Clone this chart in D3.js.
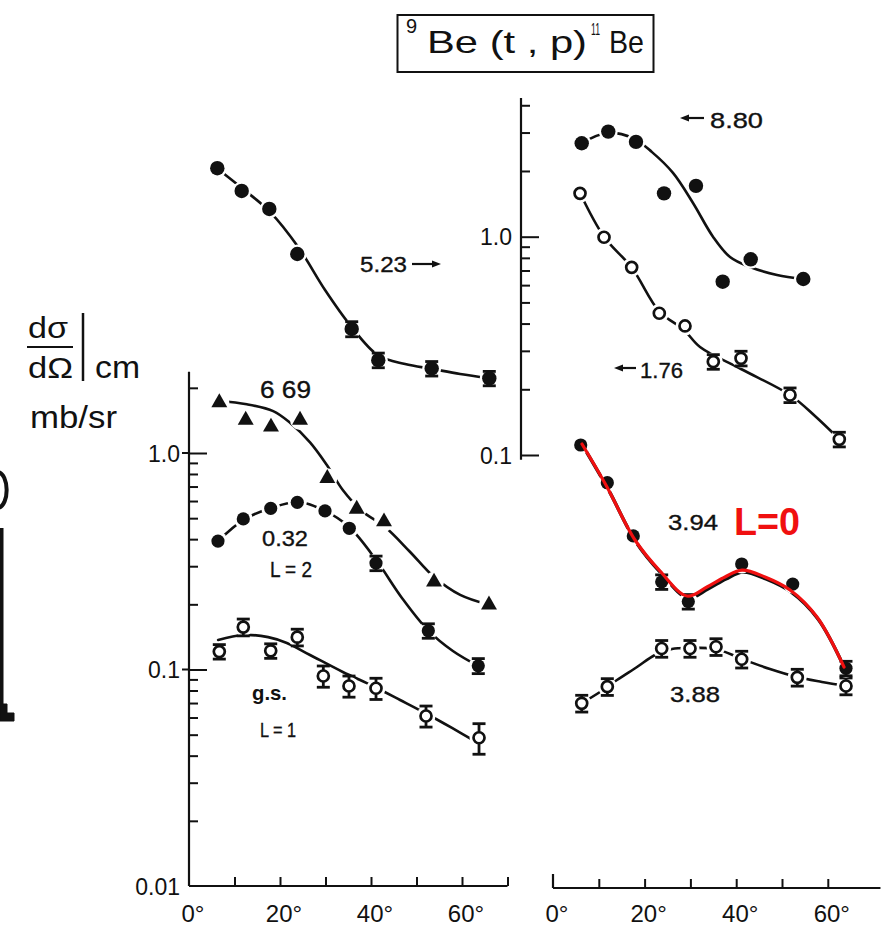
<!DOCTYPE html>
<html>
<head>
<meta charset="utf-8">
<script src="https://cdn.jsdelivr.net/npm/d3@7"></script>
<style>
  html, body { margin: 0; padding: 0; background: #fff; }
  svg { display: block; font-family: "Liberation Sans", Arial, sans-serif; }
</style>
</head>
<body>
<svg id="chart" width="884" height="929"></svg>
<script>
// ---- Measured angular distributions, 9Be(t,p)11Be (angle in deg, dσ/dΩ in mb/sr) ----
// Left panel (left log axis)
const angGS   = [6.66, 11.93, 17.96, 23.8, 29.52, 35.16, 41.1, 52.09, 63.74];
const sigGS   = [0.121, 0.157, 0.122, 0.141, 0.0933, 0.0839, 0.0819, 0.0610, 0.0484];
const errGS   = [0.0093, 0.014, 0.0094, 0.0125, 0.0105, 0.0094, 0.0092, 0.0068, 0.0078];

const ang032  = [6.37, 11.93, 17.96, 23.8, 29.89, 35.23, 41.1, 52.6, 63.58];
const sig032  = [0.392, 0.496, 0.555, 0.592, 0.540, 0.449, 0.310, 0.151, 0.104];
const err032  = [0, 0, 0, 0, 0, 0, 0.024, 0.0116, 0.0083];

const ang669  = [6.66, 12.46, 18.02, 24.4, 30.4, 36.86, 42.86, 53.85, 65.93];
const sig669  = [1.71, 1.42, 1.32, 1.42, 0.764, 0.551, 0.482, 0.254, 0.199];

// 5.23 MeV state: left-panel angles, read on the right-hand axis
const ang523  = [6.22, 11.58, 17.65, 23.8, 35.76, 41.6, 53.34, 66.0];
const sig523  = [2.06, 1.62, 1.34, 0.833, 0.378, 0.272, 0.249, 0.2245];
const err523  = [0, 0, 0, 0, 0.03, 0.021, 0.019, 0.017];

// Upper right panel (right log axis)
const ang880  = [6.27, 12.07, 18.12, 24.24, 31.22, 37.05, 43.17, 54.65];
const sig880  = [2.68, 3.03, 2.72, 1.58, 1.71, 0.622, 0.788, 0.640];

const ang176  = [5.90, 11.14, 17.18, 23.21, 28.82, 35.0, 41.05, 51.75, 62.51];
const sig176  = [1.58, 0.994, 0.724, 0.446, 0.390, 0.2676, 0.2773, 0.1883, 0.118];
const err176  = [0, 0, 0, 0, 0, 0.0206, 0.0214, 0.0145, 0.0091];

// Lower right panel (left log axis)
const ang394  = [6.05, 11.86, 17.53, 23.73, 29.54, 41.2, 52.34, 63.97];
const sig394  = [1.089, 0.729, 0.414, 0.254, 0.206, 0.307, 0.248, 0.1013];
const err394  = [0, 0, 0, 0.0196, 0.0159, 0, 0, 0.0078];

const ang388  = [6.27, 11.86, 23.73, 29.91, 35.59, 41.2, 53.34, 63.97];
const sig388  = [0.0698, 0.0833, 0.125, 0.125, 0.1274, 0.1115, 0.092, 0.0839];
const err388  = [0.0062, 0.0074, 0.0111, 0.0111, 0.0113, 0.0099, 0.0082, 0.0075];

// ---- DWBA curves: [angle, dσ/dΩ] ----
const fitGS  = [[6.4,0.1369],[11.9,0.1443],[17.4,0.1411],[21.5,0.1326],[26.6,0.1167],[33.8,0.0974],[40.4,0.0839],[46.4,0.0723],[52.3,0.0623],[57.8,0.0537],[63.1,0.0463]];
const fit032 = [[6.4,0.392],[11.9,0.490],[18.0,0.557],[24.2,0.594],[29.9,0.540],[35.2,0.455],[41.1,0.321],[46.8,0.214],[52.5,0.152],[58.0,0.1217],[63.5,0.104]];
const fit669 = [[6.6,1.74],[12.7,1.68],[18.5,1.56],[22.2,1.38],[26.6,1.12],[30.3,0.880],[33.8,0.675],[38.0,0.540],[43.1,0.455],[48.6,0.349],[53.8,0.268],[59.6,0.221],[65.9,0.199]];
const fit523 = [[6.15,2.06],[12.1,1.64],[17.8,1.30],[24.0,0.897],[29.9,0.570],[35.4,0.394],[41.5,0.287],[47.5,0.261],[53.4,0.248],[59.6,0.235],[65.9,0.2245]];
const fit880 = [[6.33,2.687],[11.79,2.985],[17.47,2.83],[21.62,2.44],[26.2,1.96],[30.57,1.427],[34.93,1.0],[38.65,0.807],[43.01,0.726],[48.91,0.668],[54.59,0.640]];
const fit176 = [[5.90,1.585],[11.14,1.0],[17.25,0.719],[23.14,0.4566],[28.6,0.3738],[32.1,0.3124],[41.05,0.2477],[51.75,0.1883],[57.2,0.1509],[62.45,0.1184]];
const fit394 = [[6.33,1.100],[11.79,0.697],[17.9,0.3964],[23.36,0.285],[29.26,0.2185],[33.62,0.2405],[37.55,0.2675],[41.27,0.288],[46.29,0.2675],[51.75,0.233],[57.64,0.1748],[63.54,0.1027]];
const fit388 = [[6.33,0.070],[10.26,0.0787],[13.97,0.0894],[18.34,0.1027],[22.27,0.1167],[25.98,0.1244],[29.91,0.1257],[35.59,0.1244],[41.27,0.1118],[47.38,0.1005],[53.28,0.0923],[58.73,0.0876],[63.97,0.0839]];

// ---- Axis ticks ----
const xTicksL = [10, 20, 30, 40, 50, 60, 70];
const xTicksR = [10, 20, 30, 40, 50, 60];
const xLabels = [0, 20, 40, 60];
const yMajorL = [1, 0.1, 0.01];
const yMinorL = [2, 0.9,0.8,0.7,0.6,0.5,0.4,0.3,0.2, 0.09,0.08,0.07,0.06,0.05,0.04,0.03,0.02];
const yMajorR = [1, 0.1];
const yMinorR = [4, 3, 2, 0.9,0.8,0.7,0.6,0.5,0.4,0.3,0.2];

// ---- Scales ----
const xL = d3.scaleLinear().domain([0, 70]).range([189, 507.5]);
const xR = d3.scaleLinear().domain([0, 70]).range([553, 873.6]);
const yL = d3.scaleLog().domain([0.01, 1]).range([886, 453]);
const yR = d3.scaleLog().domain([0.1, 1]).range([455, 236.7]);

const svg = d3.select("#chart");
const ink = "#111";
const red = "#f01010";

// ---- Title ----
const title = svg.append("g").attr("fill", ink);
title.append("rect").attr("x", 397.5).attr("y", 15).attr("width", 256).attr("height", 57)
  .attr("fill", "none").attr("stroke", ink).attr("stroke-width", 2);
title.append("text").attr("x", 406).attr("y", 33).attr("font-size", 20).text("9");
title.append("text").attr("x", 427).attr("y", 53).attr("font-size", 32)
  .attr("textLength", 160).attr("lengthAdjust", "spacingAndGlyphs").text("Be (t , p)");
title.append("text").attr("x", 591).attr("y", 35).attr("font-size", 17)
  .attr("textLength", 9).attr("lengthAdjust", "spacingAndGlyphs").text("11");
title.append("text").attr("x", 609).attr("y", 53).attr("font-size", 32)
  .attr("textLength", 35).attr("lengthAdjust", "spacingAndGlyphs").text("Be");

// ---- Y quantity label ----
const ylab = svg.append("g").attr("fill", ink);
ylab.append("text").attr("x", 28).attr("y", 338).attr("font-size", 29)
  .attr("textLength", 40).attr("lengthAdjust", "spacingAndGlyphs").text("dσ");
ylab.append("line").attr("x1", 27).attr("x2", 73).attr("y1", 347).attr("y2", 347)
  .attr("stroke", ink).attr("stroke-width", 2);
ylab.append("text").attr("x", 28).attr("y", 378).attr("font-size", 29)
  .attr("textLength", 45).attr("lengthAdjust", "spacingAndGlyphs").text("dΩ");
ylab.append("line").attr("x1", 83).attr("x2", 83).attr("y1", 313).attr("y2", 381)
  .attr("stroke", ink).attr("stroke-width", 2.5);
ylab.append("text").attr("x", 95).attr("y", 378).attr("font-size", 31)
  .attr("textLength", 45).attr("lengthAdjust", "spacingAndGlyphs").text("cm");
ylab.append("text").attr("x", 30).attr("y", 428).attr("font-size", 31)
  .attr("textLength", 87).attr("lengthAdjust", "spacingAndGlyphs").text("mb/sr");

// ---- Fragment of the neighbouring figure at the left edge ----
const frag = svg.append("g").attr("stroke", ink).attr("fill", "none");
frag.append("path").attr("d", "M-2,472 C9,474 10,505 -2,508").attr("stroke-width", 4);
frag.append("path").attr("d", "M1.5,528 L1.5,712").attr("stroke-width", 4);
frag.append("path").attr("d", "M0,704 L7,704 L7,713 L14,713 L14,721 L0,721 Z").attr("fill", ink).attr("stroke-width", 1);

// ---- Axes ----
function yAxisLines(g, y, x, vTop, vBot, minor, major, majLen) {
  g.append("line").attr("x1", x).attr("x2", x).attr("y1", y(vTop)).attr("y2", y(vBot))
    .attr("stroke", ink).attr("stroke-width", 2.2);
  const a1 = g.append("g").attr("transform", `translate(${x},0)`)
    .call(d3.axisRight(y).tickValues(minor).tickSize(9).tickFormat(""));
  const a2 = g.append("g").attr("transform", `translate(${x},0)`)
    .call(d3.axisRight(y).tickValues(major).tickSize(majLen).tickFormat(""));
  [a1, a2].forEach(a => {
    a.select(".domain").remove();
    a.selectAll("line").attr("stroke", ink).attr("stroke-width", 2);
  });
}
const fmtY = v => v >= 1 ? "1.0" : (v >= 0.1 ? "0.1" : "0.01");

// left panel y axis
const gAxL = svg.append("g");
yAxisLines(gAxL, yL, 189, 2.37, 0.01, yMinorL, [1, 0.1], 18);
gAxL.append("g").attr("transform", "translate(189,0)")
  .call(d3.axisLeft(yL).tickValues(yMajorL).tickSize(0).tickPadding(9).tickFormat(fmtY))
  .call(a => a.select(".domain").remove())
  .selectAll("text").attr("font-size", 23).attr("fill", ink)
  .attr("font-family", "Liberation Sans, Arial, sans-serif").attr("dy", "0.36em");
// short outward stubs at the labelled decades
gAxL.selectAll(".stub").data([1, 0.1]).join("line")
  .attr("x1", 182).attr("x2", 189).attr("y1", d => yL(d)).attr("y2", d => yL(d))
  .attr("stroke", ink).attr("stroke-width", 2);

// upper right panel y axis
const gAxR = svg.append("g");
yAxisLines(gAxR, yR, 521, 4.32, 0.095, yMinorR, [1, 0.1], 18);
gAxR.append("g").attr("transform", "translate(521,0)")
  .call(d3.axisLeft(yR).tickValues(yMajorR).tickSize(0).tickPadding(9).tickFormat(fmtY))
  .call(a => a.select(".domain").remove())
  .selectAll("text").attr("font-size", 23).attr("fill", ink)
  .attr("font-family", "Liberation Sans, Arial, sans-serif").attr("dy", "0.36em");

// x axes
function xAxis(g, x, y0, ticks, vEnd) {
  g.append("line").attr("x1", x(0)).attr("x2", x(vEnd)).attr("y1", y0).attr("y2", y0)
    .attr("stroke", ink).attr("stroke-width", 2.2);
  const a = g.append("g").attr("transform", `translate(0,${y0})`)
    .call(d3.axisTop(x).tickValues(ticks).tickSize(9).tickFormat(""));
  a.select(".domain").remove();
  a.selectAll("line").attr("stroke", ink).attr("stroke-width", 2);
  g.selectAll(".xl").data(xLabels).join("text")
    .attr("x", d => x(d) + 4).attr("y", 922).attr("text-anchor", "middle")
    .attr("font-size", 24).attr("fill", ink).text(d => d + "°");
}
const gXL = svg.append("g"); xAxis(gXL, xL, 886, xTicksL, 70);
const gXR = svg.append("g"); xAxis(gXR, xR, 888, xTicksR, 71.5);
gXR.append("line").attr("x1", xR(0)).attr("x2", xR(0)).attr("y1", 888).attr("y2", 874)
  .attr("stroke", ink).attr("stroke-width", 2.2);

// ---- Curves ----
const curveG = svg.append("g").attr("fill", "none");
function drawFit(pts, x, y, color, width, shift) {
  const line = d3.line().x(d => x(d[0])).y(d => y(d[1])).curve(d3.curveCatmullRom.alpha(0.5));
  return curveG.append("path").datum(pts).attr("d", line)
    .attr("stroke", color).attr("stroke-width", width)
    .attr("stroke-linejoin", "round").attr("stroke-linecap", "round")
    .attr("transform", shift || null);
}
drawFit(fitGS,  xL, yL, ink, 2.6);
drawFit(fit032, xL, yL, ink, 2.6);
drawFit(fit669, xL, yL, ink, 2.6);
drawFit(fit523, xL, yR, ink, 2.6);
drawFit(fit880, xR, yR, ink, 2.6);
drawFit(fit176, xR, yR, ink, 2.6);
drawFit(fit394, xR, yL, ink, 3.4, "translate(1,2)");
drawFit(fit388, xR, yL, ink, 2.6);

// ---- Data points ----
const pointG = svg.append("g");
function series(ang, sig, err, x, y, kind) {
  const pts = ang.map((a, i) => ({ a, v: sig[i], e: err ? err[i] : 0 }));
  const g = pointG.append("g");
  // white halo that breaks the curve around each marker
  g.selectAll(".halo").data(pts).join("circle")
    .attr("cx", d => x(d.a)).attr("cy", d => y(d.v)).attr("r", kind === "tri" ? 10 : 9.5)
    .attr("fill", "#fff");
  // error bars
  const eb = g.selectAll(".eb").data(pts.filter(d => d.e > 0)).join("g")
    .attr("stroke", ink).attr("stroke-width", 2.8);
  eb.append("line").attr("x1", d => x(d.a)).attr("x2", d => x(d.a))
    .attr("y1", d => y(d.v - d.e)).attr("y2", d => y(d.v + d.e));
  eb.append("line").attr("x1", d => x(d.a) - 6.5).attr("x2", d => x(d.a) + 6.5)
    .attr("y1", d => y(d.v - d.e)).attr("y2", d => y(d.v - d.e));
  eb.append("line").attr("x1", d => x(d.a) - 6.5).attr("x2", d => x(d.a) + 6.5)
    .attr("y1", d => y(d.v + d.e)).attr("y2", d => y(d.v + d.e));
  if (kind === "tri") {
    g.selectAll(".m").data(pts).join("path")
      .attr("d", d3.symbol(d3.symbolTriangle, 110))
      .attr("transform", d => `translate(${x(d.a)},${y(d.v)})`).attr("fill", ink);
  } else if (kind === "open") {
    g.selectAll(".m").data(pts).join("circle")
      .attr("cx", d => x(d.a)).attr("cy", d => y(d.v)).attr("r", 5.5)
      .attr("fill", "#fff").attr("stroke", ink).attr("stroke-width", 2.7);
  } else {
    g.selectAll(".m").data(pts).join("circle")
      .attr("cx", d => x(d.a)).attr("cy", d => y(d.v)).attr("r", kind === "bigdot" ? 7.2 : 6.6)
      .attr("fill", ink);
  }
}
series(angGS,  sigGS,  errGS,  xL, yL, "open");
series(ang032, sig032, err032, xL, yL, "dot");
series(ang669, sig669, null,   xL, yL, "tri");
series(ang523, sig523, err523, xL, yR, "bigdot");
series(ang880, sig880, null,   xR, yR, "bigdot");
series(ang176, sig176, err176, xR, yR, "open");
series(ang388, sig388, err388, xR, yL, "open");
series(ang394, sig394, err394, xR, yL, "dot");

// red L=0 curve drawn over the 3.94 MeV data
const redLine = d3.line().x(d => xR(d[0])).y(d => yL(d[1])).curve(d3.curveCatmullRom.alpha(0.5));
svg.append("path").datum(fit394).attr("d", redLine).attr("fill", "none")
  .attr("stroke", red).attr("stroke-width", 3.2)
  .attr("stroke-linejoin", "round").attr("stroke-linecap", "round");

// ---- State labels ----
const lab = svg.append("g").attr("fill", ink).attr("stroke", ink).attr("stroke-width", 0.35);
function label(txt, x, y, size, width, extra) {
  const t = lab.append("text").attr("x", x).attr("y", y).attr("font-size", size).text(txt);
  if (width) t.attr("textLength", width).attr("lengthAdjust", "spacingAndGlyphs");
  if (extra) extra(t);
  return t;
}
label("5.23", 360, 272, 22, 47);
label("8.80", 710, 128, 22, 53);
label("1.76", 640, 378, 22, 43);
label("6 69", 260, 398, 23, 51);
label("0.32", 262, 546, 22, 46);
label("L = 2", 270, 577, 22, 42);
label("g.s.", 252, 700, 21, 35, t => t.attr("font-weight", "bold").attr("stroke", "none"));
label("L = 1", 260, 737, 21, 36);
label("3.94", 668, 530, 22, 50);
label("3.88", 670, 702, 22, 50);
label("L=0", 734, 535, 38, 66, t => t.attr("fill", red).attr("stroke", "none").attr("font-weight", "bold"));

// arrows pointing to the axis each state is read from
const arrowG = svg.append("g").attr("stroke", ink).attr("fill", ink);
function arrow(x1, x2, y) {
  const dir = Math.sign(x2 - x1);
  arrowG.append("line").attr("x1", x1).attr("x2", x2 - dir * 6).attr("y1", y).attr("y2", y)
    .attr("stroke-width", 2.2);
  arrowG.append("path").attr("stroke", "none")
    .attr("d", `M${x2},${y} L${x2 - dir * 9},${y - 3.5} L${x2 - dir * 9},${y + 3.5} Z`);
}
arrow(412, 441, 264);
arrow(704, 680, 118);
arrow(636, 614, 368);
</script>
</body>
</html>
